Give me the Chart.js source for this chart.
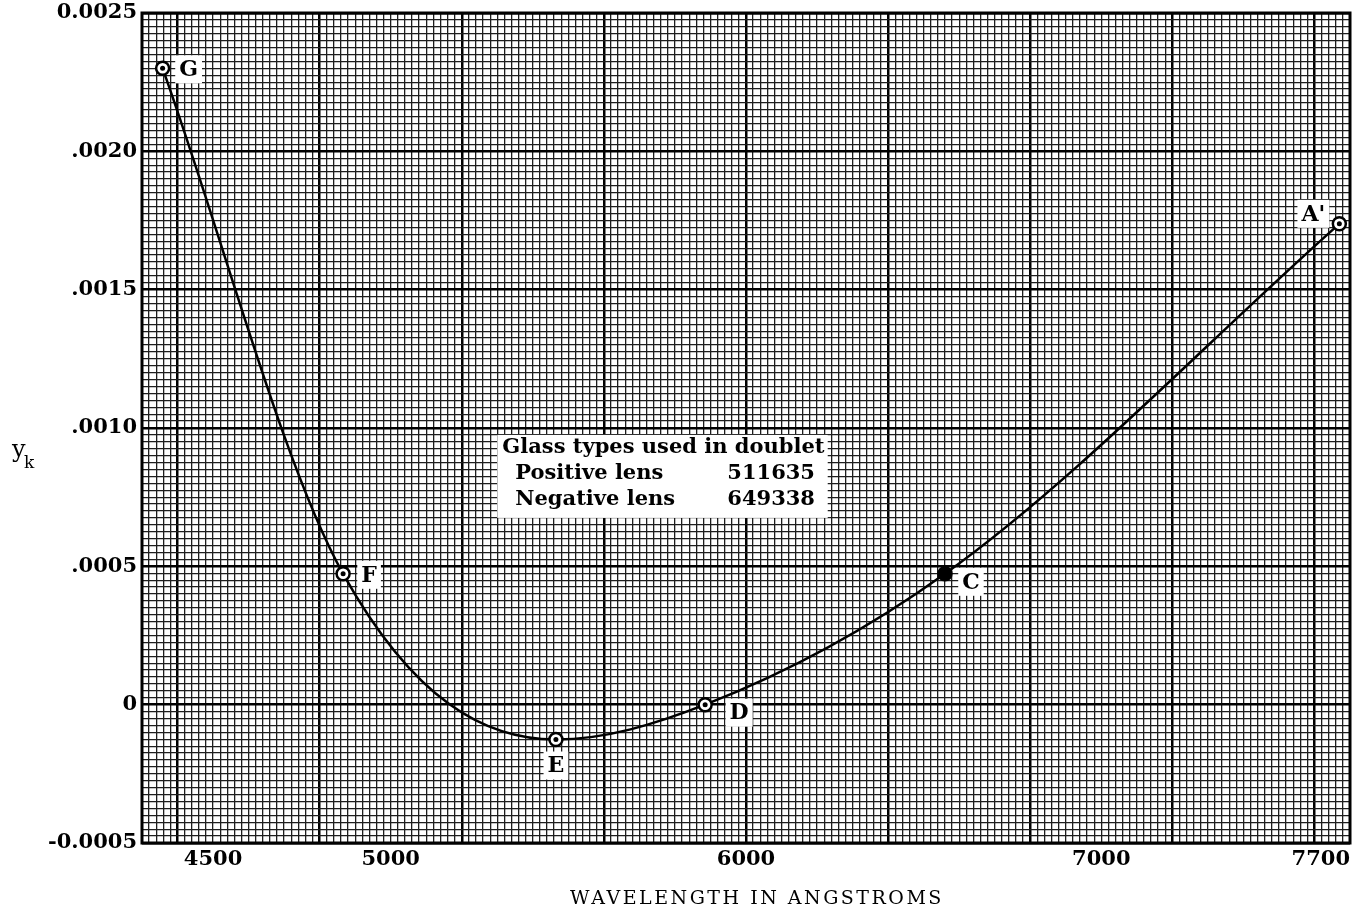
<!DOCTYPE html>
<html>
<head>
<meta charset="utf-8">
<script src="https://cdn.jsdelivr.net/npm/chart.js@4/dist/chart.umd.min.js"></script>
<style>
  html, body { margin: 0; padding: 0; background: #fff; }
  #wrap { width: 1360px; height: 912px; }
</style>
</head>
<body>
<div id="wrap"><canvas id="ykChart" width="1360" height="912"></canvas></div>
<script>
// spectral lines
const lineNames = ["G", "F", "E", "D", "C", "A'"];
const wavelengths = [4358, 4866, 5465, 5885, 6560, 7670];
const ykValues = [0.0023, 0.000473, -0.000126, 0, 0.000473, 0.001738];

const xTickLabels = [4500, 5000, 6000, 7000, 7700];
const yTickLabels = {
  "0.0025": "0.0025", "0.002": ".0020", "0.0015": ".0015",
  "0.001": ".0010", "0.0005": ".0005", "0": "0", "-0.0005": "-0.0005"
};
const glassTitle = "Glass types used in doublet";
const glassRows = [["Positive lens", "511635"], ["Negative lens", "649338"]];

const serif = "'DejaVu Serif', 'Liberation Serif', serif";

// label offsets next to each point (dx, dy from the point)
const labelPos = {
  "G": [26, 1], "F": [26, 1], "E": [0, 26], "D": [34, 8], "C": [26, 8], "A'": [-26, -10]
};

const overlay = {
  id: "overlay",
  afterDatasetsDraw(chart) {
    const ctx = chart.ctx;
    const xs = chart.scales.x, ys = chart.scales.y;
    const a = chart.chartArea;
    ctx.save();

    // inner dots in the circle markers
    const meta = chart.getDatasetMeta(0);
    meta.data.forEach((pt, i) => {
      ctx.beginPath();
      ctx.arc(pt.x, pt.y, lineNames[i] === "C" ? 6.5 : 2.5, 0, Math.PI * 2);
      ctx.fillStyle = "#000";
      ctx.fill();
    });

    // point labels
    ctx.font = "bold 22px " + serif;
    ctx.textAlign = "center";
    ctx.textBaseline = "middle";
    meta.data.forEach((pt, i) => {
      const name = lineNames[i];
      const off = labelPos[name];
      const cx = pt.x + off[0], cy = pt.y + off[1];
      const w = ctx.measureText(name).width + 8;
      ctx.fillStyle = "#fff";
      ctx.fillRect(cx - w / 2, cy - 14, w, 28);
      ctx.fillStyle = "#000";
      ctx.fillText(name, cx, cy + 1);
    });

    // glass types box
    const bx0 = xs.getPixelForValue(5300), bx1 = xs.getPixelForValue(6230);
    const by0 = ys.getPixelForValue(0.000975), by1 = ys.getPixelForValue(0.000675);
    ctx.fillStyle = "#fff";
    ctx.fillRect(bx0, by0, bx1 - bx0, by1 - by0);
    ctx.fillStyle = "#000";
    ctx.font = "bold 21px " + serif;
    ctx.textAlign = "left";
    ctx.fillText(glassTitle, bx0 + 5, by0 + 13);
    glassRows.forEach((row, i) => {
      const y = by0 + 39 + i * 26;
      ctx.fillText(row[0], bx0 + 18, y);
      ctx.fillText(row[1], bx0 + 230, y);
    });

    // frame
    ctx.strokeStyle = "#000";
    ctx.lineWidth = 3;
    ctx.strokeRect(a.left, a.top, a.right - a.left, a.bottom - a.top);

    // axis titles
    ctx.font = "19px " + serif;
    ctx.textAlign = "center";
    ctx.letterSpacing = "2.5px";
    ctx.fillText("WAVELENGTH IN ANGSTROMS", 757, 899);
    ctx.letterSpacing = "0px";
    ctx.font = "24px " + serif;
    ctx.textAlign = "left";
    ctx.fillText("y", 12, 451);
    ctx.font = "17px " + serif;
    ctx.fillText("k", 24, 464);
    ctx.restore();
  }
};

const ctx = document.getElementById("ykChart").getContext("2d");
new Chart(ctx, {
  type: "line",
  data: {
    datasets: [{
      data: wavelengths.map((w, i) => ({ x: w, y: ykValues[i] })),
      borderColor: "#000",
      borderWidth: 2.5,
      cubicInterpolationMode: "monotone",
      pointRadius: 6.5,
      pointBorderWidth: 2.5,
      pointBorderColor: "#000",
      pointBackgroundColor: "#fff",
      fill: false
    }]
  },
  options: {
    responsive: false,
    animation: false,
    layout: { padding: { top: 13, right: 10, left: 0, bottom: 0 } },
    plugins: { legend: { display: false }, tooltip: { enabled: false } },
    scales: {
      x: {
        type: "linear",
        min: 4300,
        max: 7700,
        afterFit(scale) { scale.height = 69; },
        border: { display: false },
        grid: {
          drawTicks: false,
          color: (c) => ((c.tick.value - 4400) % 400 === 0 ? "#000" : "#1e1e1e"),
          lineWidth: (c) => ((c.tick.value - 4400) % 400 === 0 ? 2.5 : 1.3)
        },
        ticks: {
          stepSize: 20,
          autoSkip: false,
          maxRotation: 0,
          align: "inner",
          padding: 4,
          color: "#000",
          font: { family: serif, size: 21, weight: "bold" },
          callback: (v) => (xTickLabels.includes(Math.round(v)) ? String(Math.round(v)) : "")
        }
      },
      y: {
        min: -0.0005,
        max: 0.0025,
        afterFit(scale) { scale.width = 142; scale.paddingTop = 0; scale.paddingBottom = 0; },
        border: { display: false },
        grid: {
          drawTicks: false,
          color: (c) => (Math.abs(c.tick.value / 0.0005 - Math.round(c.tick.value / 0.0005)) < 1e-6 ? "#000" : "#1e1e1e"),
          lineWidth: (c) => (Math.abs(c.tick.value / 0.0005 - Math.round(c.tick.value / 0.0005)) < 1e-6 ? 2.5 : 1.3)
        },
        ticks: {
          stepSize: 0.000025,
          autoSkip: false,
          padding: 5,
          color: "#000",
          font: { family: serif, size: 21, weight: "bold" },
          callback: (v) => {
            const key = String(Math.round(v * 1e5) / 1e5);
            return Math.abs(v / 0.0005 - Math.round(v / 0.0005)) < 1e-6 ? (yTickLabels[key] || "") : "";
          }
        }
      }
    }
  },
  plugins: [overlay]
});
</script>
</body>
</html>
